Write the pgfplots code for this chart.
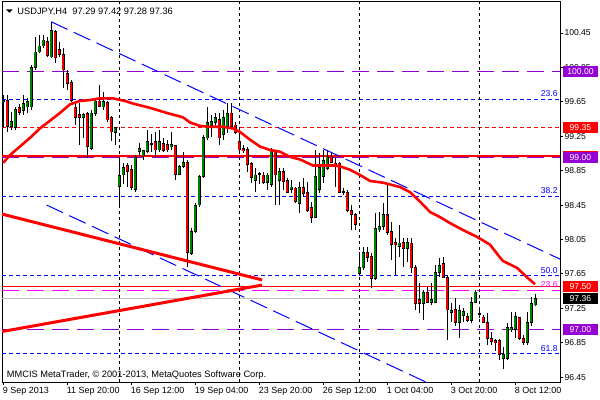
\documentclass[border=0pt]{standalone}
\usepackage{pgfplots}
\pgfplotsset{compat=1.18}
\usepackage{pgfplotstable}
\usepackage{fontspec}
\setmainfont{Liberation Sans}
\definecolor{mtpurple}{RGB}{148,0,211}
\definecolor{mtblue}{RGB}{0,0,255}
\definecolor{mtgreen}{RGB}{0,128,0}
\definecolor{mtred}{RGB}{255,0,0}
\definecolor{candred}{RGB}{235,0,0}
\definecolor{mtsilver}{RGB}{192,192,192}
\definecolor{mtmag}{RGB}{255,0,255}

\pgfplotstableread{
i o h l c
0 99.65 99.73 99.35 99.67
1 99.67 99.73 99.30 99.36
2 99.36 99.53 99.32 99.42
3 99.35 99.59 99.32 99.56
4 99.58 99.62 99.50 99.53
5 99.55 99.73 99.50 99.63
6 99.59 99.70 99.52 99.65
7 99.59 100.08 99.56 100.05
8 100.05 100.40 100.02 100.23
9 100.23 100.43 100.22 100.30
10 100.30 100.43 100.28 100.37
11 100.35 100.40 100.17 100.19
12 100.17 100.58 100.16 100.48
13 100.47 100.49 100.10 100.16
14 100.26 100.34 100.17 100.20
15 100.20 100.28 99.81 100.02
16 99.98 100.02 99.79 99.86
17 99.87 99.91 99.65 99.67
18 99.59 99.65 99.38 99.47
19 99.50 99.64 99.15 99.47
20 99.47 99.52 99.23 99.50
21 99.51 99.53 99.00 99.13
22 99.11 99.56 99.09 99.52
23 99.51 99.67 99.49 99.66
24 99.66 99.85 99.59 99.60
25 99.59 99.77 99.56 99.65
26 99.64 99.66 99.42 99.44
27 99.47 99.48 99.19 99.30
28 99.29 99.36 99.15 99.35
29 98.67 98.98 98.42 98.79
30 98.80 98.94 98.69 98.89
31 98.91 98.94 98.66 98.84
32 98.86 98.92 98.63 98.65
33 98.63 99.03 98.60 99.01
34 99.07 99.17 99.02 99.11
35 99.02 99.09 98.98 99.08
36 99.07 99.32 99.06 99.19
37 99.16 99.27 99.07 99.17
38 99.19 99.30 99.01 99.09
39 99.09 99.32 99.07 99.19
40 99.17 99.23 99.07 99.09
41 99.15 99.21 99.07 99.09
42 99.13 99.30 99.09 99.15
43 99.14 99.15 98.74 98.81
44 98.81 98.92 98.80 98.90
45 98.90 99.07 98.88 98.95
46 98.95 98.97 97.73 97.90
47 97.89 98.18 97.87 98.14
48 98.14 98.47 98.13 98.45
49 98.45 98.80 98.43 98.78
50 98.78 99.27 98.77 99.24
51 99.23 99.59 99.21 99.41
52 99.38 99.50 99.24 99.42
53 99.41 99.52 99.36 99.47
54 99.44 99.52 99.15 99.23
55 99.27 99.56 99.21 99.47
56 99.35 99.64 99.29 99.52
57 99.52 99.64 99.35 99.36
58 99.38 99.41 99.27 99.29
59 99.19 99.29 99.07 99.09
60 99.11 99.15 99.06 99.08
61 99.10 99.13 98.84 98.92
62 98.93 98.95 98.71 98.77
63 98.74 98.88 98.60 98.80
64 98.81 98.84 98.69 98.82
65 98.80 98.84 98.69 98.71
66 98.71 98.82 98.63 98.80
67 98.69 99.11 98.66 99.09
68 99.07 99.09 98.45 98.80
69 98.74 98.88 98.45 98.84
70 98.84 98.88 98.63 98.72
71 98.74 98.77 98.59 98.60
72 98.63 98.74 98.59 98.66
73 98.65 98.66 98.47 98.49
74 98.47 98.72 98.36 98.66
75 98.66 98.77 98.55 98.59
76 98.60 98.72 98.37 98.39
77 98.42 98.49 98.24 98.31
78 98.31 99.09 98.30 98.78
79 98.63 99.06 98.59 98.89
80 98.78 99.09 98.71 98.97
81 98.88 99.09 98.86 99.01
82 99.01 99.06 98.94 98.95
83 98.94 99.00 98.66 98.92
84 98.94 98.95 98.59 98.60
85 98.61 98.65 98.57 98.60
86 98.60 98.63 98.37 98.39
87 98.39 98.45 98.16 98.34
88 98.34 98.36 98.16 98.22
89 97.66 97.90 97.64 97.73
90 97.72 97.96 97.70 97.90
91 97.90 97.96 97.79 97.84
92 97.85 97.89 97.49 97.60
93 97.60 98.36 97.58 98.18
94 98.16 98.37 98.14 98.20
95 98.20 98.47 98.16 98.34
96 98.34 98.71 98.10 98.13
97 98.14 98.25 97.81 97.99
98 98.01 98.07 97.64 97.99
99 97.97 98.22 97.85 98.01
100 98.01 98.07 97.73 97.95
101 97.95 98.07 97.79 98.01
102 98.01 98.07 97.66 97.72
103 97.73 97.75 97.23 97.31
104 97.35 97.55 97.20 97.31
105 97.31 97.46 97.11 97.43
106 97.43 97.50 97.31 97.32
107 97.32 97.54 97.29 97.35
108 97.32 97.75 97.31 97.67
109 97.67 97.84 97.61 97.75
110 97.77 97.85 97.60 97.61
111 97.61 97.64 96.88 97.23
112 97.20 97.31 97.09 97.23
113 97.24 97.37 97.05 97.09
114 97.09 97.29 96.91 97.23
115 97.17 97.26 97.09 97.21
116 97.16 97.20 97.09 97.11
117 97.11 97.38 97.08 97.32
118 97.32 97.46 97.31 97.44
119 97.18 97.23 97.14 97.19
120 97.15 97.17 97.08 97.09
121 97.09 97.20 96.82 96.90
122 96.90 96.97 96.82 96.86
123 96.88 96.90 96.76 96.85
124 96.88 96.90 96.65 96.71
125 96.67 96.80 96.55 96.71
126 96.67 97.08 96.65 97.03
127 97.00 97.21 96.97 97.03
128 97.00 97.21 96.91 97.15
129 97.14 97.15 96.88 96.90
130 96.90 96.94 96.82 96.85
131 96.85 97.21 96.82 97.09
132 97.09 97.38 97.05 97.31
133 97.29 97.42 97.28 97.36
}\candles

\begin{document}
\begin{tikzpicture}
\useasboundingbox (0,0) rectangle (600bp,400bp);
\begin{axis}[
  at={(2bp,17.7bp)}, anchor=south west,
  width=558.3bp, height=380.3bp, scale only axis,
  xmin=-0.3, xmax=139.25, ymin=96.39, ymax=100.81,
  axis line style={black, line width=1bp},
  tick align=outside, major tick length=3bp,
  tick style={black, line width=0.8bp},
  xtick pos=bottom, ytick pos=right, yticklabel pos=right,
  xtick={0,16,32,48,64,80,96,112,128},
  xticklabels={9 Sep 2013, 11 Sep 20:00, 16 Sep 12:00, 19 Sep 04:00, 23 Sep 20:00, 26 Sep 12:00, 1 Oct 04:00, 3 Oct 20:00, 8 Oct 12:00},
  xticklabel style={anchor=north west, inner sep=0pt, xshift=-0.5bp, yshift=-1.5bp, font=\fontsize{9}{10}\selectfont},
  ytick={96.45,96.85,97.25,97.65,98.05,98.45,98.85,99.25,99.65,100.05,100.45},
  yticklabels={96.45,96.85,97.25,97.65,98.05,98.45,98.85,99.25,99.65,100.05,100.45},
  yticklabel style={anchor=west, inner sep=0pt, xshift=1bp, font=\fontsize{8.6}{10}\selectfont},
  clip=true,
]
% horizontal levels
\addplot[draw=mtpurple, line width=1bp, dash pattern=on 17bp off 8bp] coordinates {(-0.3,100.00) (139.25,100.00)};
\addplot[draw=mtblue, line width=1bp, dash pattern=on 4bp off 3bp] coordinates {(-0.3,99.68) (139.25,99.68)};
\addplot[draw=mtred, line width=1bp, dash pattern=on 4bp off 3bp] coordinates {(-0.3,99.35) (139.25,99.35)};
\addplot[draw=mtred, line width=1.3bp] coordinates {(-0.3,99.02) (139.25,99.02)};
\addplot[draw=mtpurple, line width=1bp, dash pattern=on 17bp off 8bp] coordinates {(-0.3,99.00) (139.25,99.00)};
\addplot[draw=mtblue, line width=1bp, dash pattern=on 4bp off 3bp] coordinates {(-0.3,98.55) (139.25,98.55)};
\addplot[draw=mtblue, line width=1bp, dash pattern=on 4bp off 3bp] coordinates {(-0.3,97.63) (139.25,97.63)};
\addplot[draw=mtred, line width=1.3bp] coordinates {(-0.3,97.50) (139.25,97.50)};
\addplot[draw=mtmag, line width=1bp, dash pattern=on 17bp off 8bp] coordinates {(-0.3,97.46) (139.25,97.46)};
\addplot[draw=mtsilver, line width=1bp] coordinates {(-0.3,97.36) (139.25,97.36)};
\addplot[draw=mtpurple, line width=1bp, dash pattern=on 17bp off 8bp] coordinates {(-0.3,97.00) (139.25,97.00)};
\addplot[draw=mtblue, line width=1bp, dash pattern=on 4bp off 3bp] coordinates {(-0.3,96.72) (139.25,96.72)};
% week separators
\addplot[draw=black, line width=0.8bp, dash pattern=on 3bp off 3bp] coordinates {(29,96.39) (29,100.81)};
\addplot[draw=black, line width=0.8bp, dash pattern=on 3bp off 3bp] coordinates {(59,96.39) (59,100.81)};
\addplot[draw=black, line width=0.8bp, dash pattern=on 3bp off 3bp] coordinates {(89,96.39) (89,100.81)};
\addplot[draw=black, line width=0.8bp, dash pattern=on 3bp off 3bp] coordinates {(119,96.39) (119,100.81)};
% wicks
\addplot[draw=none, mark=none, forget plot,
  error bars/.cd, y dir=both, y explicit, error mark=none,
  error bar style={draw=black, line width=1bp}]
  table[x=i, y expr={(\thisrow{h}+\thisrow{l})/2}, y error expr={(\thisrow{h}-\thisrow{l})/2}] {\candles};
% body outlines
\addplot[draw=none, mark=none, forget plot,
  error bars/.cd, y dir=both, y explicit, error mark=none,
  error bar style={draw=black, line width=3.2bp}]
  table[x=i, y expr={(\thisrow{o}+\thisrow{c})/2}, y error expr={abs(\thisrow{c}-\thisrow{o})/2+0.005}] {\candles};
% bull bodies
\addplot[draw=none, mark=none, forget plot,
  restrict expr to domain={\thisrow{c}-\thisrow{o}}{0.00001:10},
  error bars/.cd, y dir=both, y explicit, error mark=none,
  error bar style={draw=mtgreen, line width=1.9bp}]
  table[x=i, y expr={(\thisrow{o}+\thisrow{c})/2}, y error expr={max(abs(\thisrow{c}-\thisrow{o})/2-0.005,0)}] {\candles};
% bear bodies
\addplot[draw=none, mark=none, forget plot,
  restrict expr to domain={\thisrow{o}-\thisrow{c}}{0.00001:10},
  error bars/.cd, y dir=both, y explicit, error mark=none,
  error bar style={draw=candred, line width=1.9bp}]
  table[x=i, y expr={(\thisrow{o}+\thisrow{c})/2}, y error expr={max(abs(\thisrow{c}-\thisrow{o})/2-0.005,0)}] {\candles};
% channel lines
\addplot[draw=mtblue, line width=1bp, dash pattern=on 18bp off 7bp] coordinates {(12,100.58) (139.25,97.82)};
\addplot[draw=mtblue, line width=1bp, dash pattern=on 18bp off 7bp] coordinates {(10.85,98.45) (105.8,96.39)};
% triangle
\addplot[draw=mtred, line width=3bp] coordinates {(-0.3,98.345) (64.7,97.58)};
\addplot[draw=mtred, line width=3bp] coordinates {(-0.3,96.98) (64.7,97.52)};
% moving average
\addplot[draw=mtred, line width=2.6bp] coordinates {
(0,98.94) (1.68,99.03) (4.18,99.13) (6.68,99.23) (9.18,99.34) (11.68,99.43)
(14.18,99.52) (16.68,99.62) (19.18,99.66) (21.68,99.67) (24.18,99.69) (27.43,99.69)
(30.43,99.66) (32.43,99.63) (36.68,99.58) (40.93,99.52) (44.93,99.47) (46.68,99.41)
(49.18,99.37) (51.68,99.36) (54.93,99.36) (57.43,99.34) (59.18,99.30) (61.68,99.21)
(64.18,99.13) (66.68,99.09) (69.18,99.07) (71.68,99.01) (74.18,98.98) (77.43,98.91)
(82.43,98.91) (84.18,98.90) (86.68,98.86) (89.18,98.80) (91.68,98.73) (94.93,98.71)
(99.18,98.66) (101.68,98.60) (104.18,98.49) (106.68,98.37) (109.18,98.31) (111.68,98.24)
(114.93,98.16) (118.43,98.08) (121.68,97.99) (124.18,97.84) (124.93,97.80) (128.43,97.72)
(130.93,97.61) (132.93,97.53)};
% anchors for labels
\coordinate (L1000) at (axis cs:139.25,100.00);
\coordinate (L9935) at (axis cs:139.25,99.35);
\coordinate (L9902) at (axis cs:139.25,99.02);
\coordinate (L9900) at (axis cs:139.25,99.00);
\coordinate (L9750) at (axis cs:139.25,97.50);
\coordinate (L9736) at (axis cs:139.25,97.36);
\coordinate (L9700) at (axis cs:139.25,97.00);
\coordinate (F236) at (axis cs:139.25,99.68);
\coordinate (F382) at (axis cs:139.25,98.55);
\coordinate (F500) at (axis cs:139.25,97.63);
\coordinate (F618) at (axis cs:139.25,96.72);
\coordinate (M236) at (axis cs:139.25,97.46);
\end{axis}
% price boxes
\tikzset{pbox/.style={anchor=west, inner sep=0pt, minimum width=34.5bp, minimum height=10.7bp, text=white, font=\fontsize{8.6}{10}\selectfont}}
\node[pbox, fill=mtpurple] at ([xshift=2.7bp]L1000) {100.00};
\node[pbox, fill=mtred] at ([xshift=2.7bp]L9935) {99.35};
\node[pbox, fill=mtred] at ([xshift=2.7bp]L9902) {};
\node[pbox, fill=mtpurple] at ([xshift=2.7bp]L9900) {99.00};
\node[pbox, fill=mtred] at ([xshift=2.7bp]L9750) {97.50};
\node[pbox, fill=black] at ([xshift=2.7bp]L9736) {97.36};
\node[pbox, fill=mtpurple] at ([xshift=2.7bp]L9700) {97.00};
% fibo labels
\tikzset{flab/.style={anchor=base east, inner sep=0pt, font=\fontsize{8.6}{10}\selectfont}}
\node[flab, text=mtblue] at ([xshift=-2.5bp, yshift=2.6bp]F236) {23.6};
\node[flab, text=mtblue] at ([xshift=-2.5bp, yshift=2.6bp]F382) {38.2};
\node[flab, text=mtblue] at ([xshift=-2.5bp, yshift=2.6bp]F500) {50.0};
\node[flab, text=mtblue] at ([xshift=-2.5bp, yshift=2.6bp]F618) {61.8};
\node[flab, text=mtmag] at ([xshift=-2.5bp, yshift=2.6bp]M236) {23.6};
% header and footer
\fill[black] (6bp,390.7bp) -- (12.7bp,390.7bp) -- (9.35bp,387.3bp) -- cycle;
\node[anchor=base west, inner sep=0pt, font=\fontsize{9.3}{11}\selectfont] at (17.3bp,385.7bp) {USDJPY,H4\ \ 97.29 97.42 97.28 97.36};
\node[anchor=base west, inner sep=0pt, font=\fontsize{9.3}{11}\selectfont] at (6.7bp,22.5bp) {MMCIS MetaTrader, © 2001-2013, MetaQuotes Software Corp.};
\end{tikzpicture}
\end{document}
